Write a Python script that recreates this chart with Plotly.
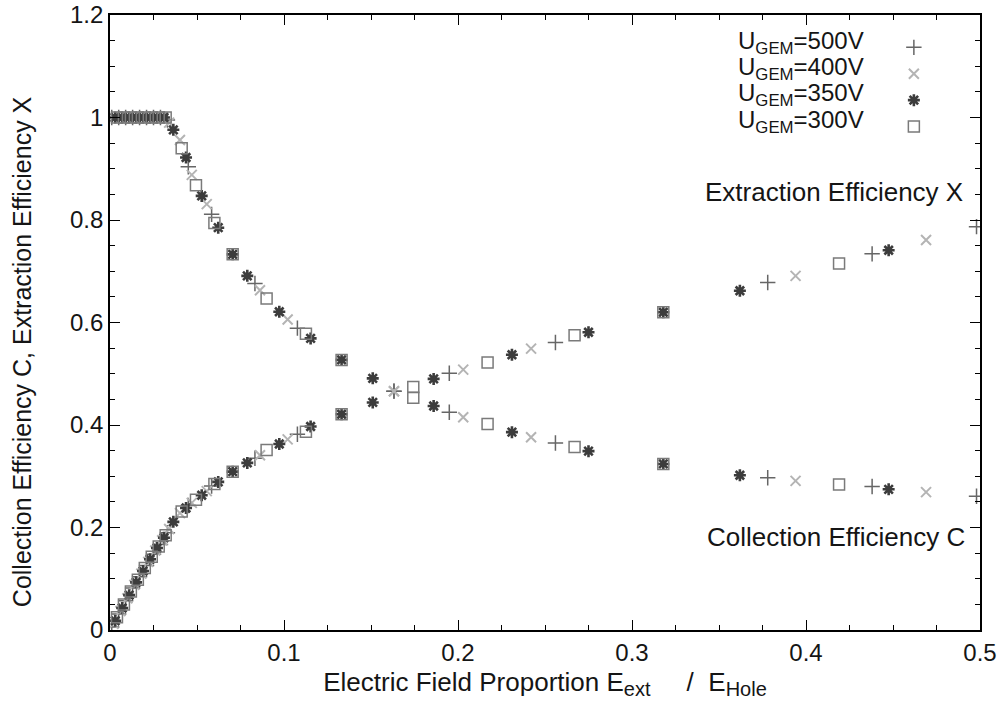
import plotly.graph_objects as go

# ---------------- data ----------------
x_500 = [0.001, 0.005, 0.009, 0.013, 0.017, 0.021, 0.025, 0.029, 0.033,
         0.045, 0.0584, 0.0833, 0.1077, 0.1632, 0.195, 0.256, 0.378, 0.438, 0.498]
c_500 = [1.0, 1.0, 1.0, 1.0, 1.0, 1.0, 1.0, 1.0, 0.995,
         0.904, 0.811, 0.676, 0.589, 0.466, 0.425, 0.365, 0.297, 0.280, 0.261]
x_500_ext = [0.006, 0.031, 0.057, 0.082, 0.104, 0.126, 0.148, 0.167, 0.190,
             0.243, 0.281, 0.335, 0.382, 0.466, 0.501, 0.561, 0.678, 0.734, 0.787]

x_400 = [0.002, 0.006, 0.010, 0.014, 0.018, 0.022, 0.026, 0.030, 0.034,
         0.0402, 0.047, 0.0556, 0.0862, 0.1021, 0.1632, 0.203, 0.242, 0.394, 0.469]
c_400 = [1.0, 1.0, 1.0, 1.0, 1.0, 1.0, 1.0, 1.0, 0.99,
         0.956, 0.888, 0.831, 0.663, 0.606, 0.466, 0.415, 0.376, 0.291, 0.269]
x_400_ext = [0.012, 0.037, 0.062, 0.088, 0.110, 0.133, 0.155, 0.175, 0.197,
             0.228, 0.248, 0.271, 0.341, 0.372, 0.466, 0.508, 0.549, 0.691, 0.761]

x_350 = [0.003, 0.007, 0.011, 0.015, 0.019, 0.023, 0.027, 0.031,
         0.0364, 0.0437, 0.0527, 0.0622, 0.0705, 0.0789, 0.0973, 0.1153, 0.1331,
         0.151, 0.186, 0.231, 0.275, 0.318, 0.362, 0.4475]
c_350 = [1.0, 1.0, 1.0, 1.0, 1.0, 1.0, 1.0, 1.0,
         0.976, 0.922, 0.847, 0.785, 0.733, 0.691, 0.621, 0.569, 0.527,
         0.491, 0.437, 0.386, 0.349, 0.324, 0.302, 0.2745]
x_350_ext = [0.018, 0.043, 0.068, 0.093, 0.115, 0.138, 0.160, 0.180,
             0.211, 0.238, 0.263, 0.289, 0.309, 0.326, 0.363, 0.397, 0.421,
             0.444, 0.490, 0.537, 0.581, 0.620, 0.662, 0.741]

x_300 = [0.004, 0.008, 0.012, 0.016, 0.020, 0.024, 0.028, 0.032,
         0.0412, 0.0494, 0.060, 0.0705, 0.090, 0.1126, 0.1331, 0.1743,
         0.217, 0.267, 0.318, 0.419]
c_300 = [1.0, 1.0, 1.0, 1.0, 1.0, 1.0, 1.0, 1.0,
         0.940, 0.868, 0.794, 0.733, 0.647, 0.578, 0.527, 0.453,
         0.402, 0.357, 0.324, 0.284]
x_300_ext = [0.025, 0.050, 0.075, 0.098, 0.121, 0.143, 0.163, 0.185,
             0.231, 0.254, 0.285, 0.309, 0.351, 0.387, 0.421, 0.474,
             0.522, 0.575, 0.620, 0.715]

series_labels = ["U<sub>GEM</sub>=500V", "U<sub>GEM</sub>=400V",
                 "U<sub>GEM</sub>=350V", "U<sub>GEM</sub>=300V"]

x_ticks = [0, 0.1, 0.2, 0.3, 0.4, 0.5]
y_ticks = [0, 0.2, 0.4, 0.6, 0.8, 1.0, 1.2]

# ---------------- styling ----------------
FONT = "Liberation Sans, Arial, sans-serif"
TXT = "#151515"
styles = [
    dict(symbol="cross-thin", size=11, line=dict(color="#666666", width=1.5)),
    dict(symbol="x-thin", size=10, line=dict(color="#b4b4b4", width=2.0)),
    dict(symbol="asterisk-open", size=10, line=dict(color="#3c3c3c", width=2.6)),
    dict(symbol="square-open", size=11, color="#7a7a7a", line=dict(color="#7a7a7a", width=1.5)),
]

data_sets = [
    (x_500, c_500, x_500_ext),
    (x_400, c_400, x_400_ext),
    (x_350, c_350, x_350_ext),
    (x_300, c_300, x_300_ext),
]

fig = go.Figure()
for (xs, cs, xe), lab, st in zip(data_sets, series_labels, styles):
    mk = dict(st)
    if "color" not in mk:
        mk["color"] = mk["line"]["color"]
    fig.add_trace(go.Scatter(x=xs + xs, y=cs + xe, mode="markers", marker=mk,
                             name="", legendgroup=lab, showlegend=True,
                             hoverinfo="x+y"))

axis_common = dict(
    showgrid=False, zeroline=False, showline=True, linecolor="black", linewidth=1.8,
    mirror="allticks", ticks="inside", ticklen=10, tickwidth=1.3, tickcolor="black",
    tickfont=dict(family=FONT, size=24, color=TXT), automargin=False,
)

x_title = ("Electric Field Proportion E<sub><span style='font-size:20px'>ext</span></sub>"
           "     /  E<sub><span style='font-size:20px'>Hole</span></sub>")
fig.update_xaxes(range=[0, 0.5], tickvals=x_ticks, ticktext=[("%g" % v) for v in x_ticks],
                 minor=dict(dtick=0.025, tick0=0, ticks="inside", ticklen=5, tickcolor="black"),
                 title=dict(text=x_title, font=dict(family=FONT, size=26, color=TXT), standoff=8),
                 **axis_common)
fig.update_yaxes(range=[0, 1.2], tickvals=y_ticks, ticktext=[("%g" % v) for v in y_ticks],
                 minor=dict(dtick=0.05, tick0=0, ticks="inside", ticklen=5, tickcolor="black"),
                 **axis_common)

# y axis title (sits a little below the plot centre in the reference)
fig.add_annotation(xref="paper", yref="paper", x=-0.101, y=0.452,
                   text="Collection Efficiency C, Extraction Efficiency X",
                   textangle=-90, showarrow=False, xanchor="center", yanchor="middle",
                   font=dict(family=FONT, size=25, color=TXT))

# legend text (labels to the left of the legend symbols, as in the reference)
label_y = [0.956, 0.913, 0.870, 0.827]
for lab, yy in zip(series_labels, label_y):
    fig.add_annotation(xref="paper", yref="paper", x=0.869, y=yy, text=lab,
                       showarrow=False, xanchor="right", yanchor="middle",
                       font=dict(family=FONT, size=24, color=TXT))

fig.add_annotation(xref="paper", yref="paper", x=0.983, y=0.713,
                   text="Extraction Efficiency X", showarrow=False,
                   xanchor="right", yanchor="middle",
                   font=dict(family=FONT, size=26, color=TXT))
fig.add_annotation(xref="paper", yref="paper", x=0.985, y=0.152,
                   text="Collection Efficiency C", showarrow=False,
                   xanchor="right", yanchor="middle",
                   font=dict(family=FONT, size=26, color=TXT))

fig.update_layout(
    width=1003, height=716,
    margin=dict(l=110, r=23, t=15, b=86, autoexpand=False),
    paper_bgcolor="white", plot_bgcolor="white",
    showlegend=True,
    legend=dict(x=0.901, y=0.977, xanchor="left", yanchor="top",
                bgcolor="rgba(0,0,0,0)", font=dict(family=FONT, size=18),
                itemwidth=30, tracegroupgap=0),
)

# remove the default 8px page margin so the figure fills the window exactly
fig.write_html("out.html", config={"displayModeBar": False},
               post_script="document.body.style.margin='0';")
